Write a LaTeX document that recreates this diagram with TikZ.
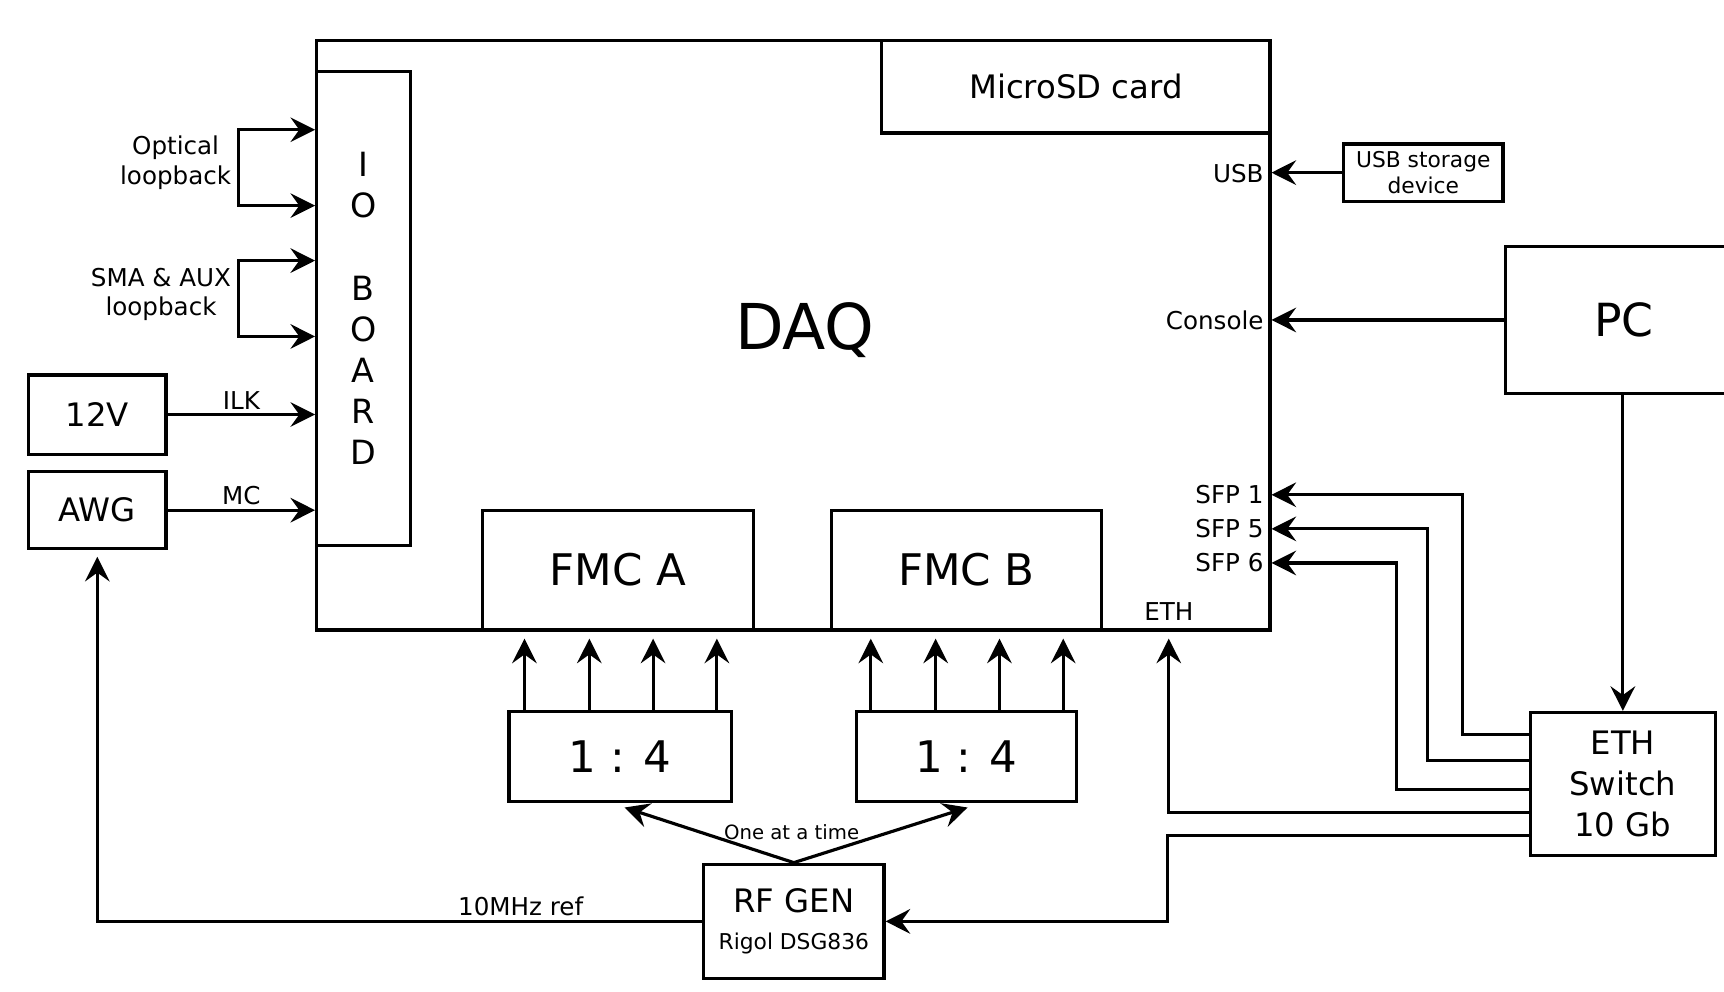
\documentclass[tikz,border=0pt]{standalone}
\usepackage{fontspec}
\setmainfont{DejaVu Sans}
\usetikzlibrary{arrows.meta, positioning, fit, calc}

\begin{document}
\begin{tikzpicture}[x=0.010995cm, y=-0.010995cm,
    >={Stealth[length=7pt, width=7pt, inset=2.5pt]},
    blk/.style={draw, line width=0.9pt, inner sep=0pt},
    arr/.style={->, line width=0.9pt},
    lbl/.style={font=\fontsize{7}{8.4}\selectfont, inner sep=1pt, align=center},
    big/.style={font=\fontsize{9.2}{11.6}\selectfont, align=center},
    huge/.style={font=\fontsize{12.4}{14}\selectfont},
]
\useasboundingbox (0,0) rectangle (1568,902);
\clip (0,0) rectangle (1568,902);
% DAQ board
\node[blk, fit={(288,37) (1155,573)}] (daq) {};
\node[font=\fontsize{18}{20}\selectfont] (daqlbl) at (732,300) {DAQ};
\node[blk, fit={(802,37) (1155,121)}, label={[big]center:{MicroSD card}}] (sd) {};
\node[blk, fit={(288,65) (373,496)}, label={[font=\fontsize{9.5}{11.7}\selectfont, align=center]center:{I\\O\\[11.7pt]B\\O\\A\\R\\D}}] (io) {};
\node[blk, fit={(439,464) (685,573)}, label={[huge]center:{FMC A}}] (fmca) {};
\node[blk, fit={(756,464) (1002,573)}, label={[huge]center:{FMC B}}] (fmcb) {};
\node[lbl, anchor=east] (usblbl) at (1153,158) {USB};
\node[lbl, anchor=east] (conlbl) at (1153,291) {Console};
\node[lbl, anchor=east] (sfp1) at (1153,450) {SFP 1};
\node[lbl, anchor=east] (sfp5) at (1153,481) {SFP 5};
\node[lbl, anchor=east] (sfp6) at (1153,512) {SFP 6};
\node[lbl] (ethlbl) at (1063,556) {ETH};
% splitters and generator
\node[blk, fit={(463,647) (665,729)}, label={[huge]center:{1 : 4}}] (spa) {};
\node[blk, fit={(779,647) (979,729)}, label={[huge]center:{1 : 4}}] (spb) {};
\node[blk, fit={(640,786) (804,890)}, label={[big]center:{RF GEN\\[-1pt]{\fontsize{6.2}{7.4}\selectfont Rigol DSG836}}}] (rf) {};
\node[lbl, font=\fontsize{5.6}{6.7}\selectfont] (once) at (720,757) {One at a time};
% left side
\node[blk, fit={(26,341) (151,413)}, label={[big]center:12V}] (psu) {};
\node[blk, fit={(26,429) (151,499)}, label={[big]center:AWG}] (awg) {};
\node[lbl, anchor=east] (optlbl) at (214,148) {Optical\\loopback};
\node[lbl, anchor=east] (smalbl) at (214,268) {SMA \& AUX\\loopback};
% right side
\node[blk, fit={(1222,131) (1367,183)}, label={[font=\fontsize{6.2}{7.6}\selectfont, align=center]center:{USB storage\\device}}] (usbdev) {};
\node[blk, fit={(1369,224) (1585,358)}, label={[font=\fontsize{13}{15}\selectfont]center:PC}] (pc) {};
\node[blk, fit={(1392,648) (1560,778)}, label={[big]center:{ETH\\Switch\\10 Gb}}] (sw) {};

% loopbacks
\coordinate (opt1) at (217,118);
\coordinate (opt2) at (217,187);
\coordinate (sma1) at (217,237);
\coordinate (sma2) at (217,306);
\draw[<->, line width=0.9pt] (opt1 -| io.west) -- (opt1) -- (opt2) -- (opt2 -| io.west);
\draw[<->, line width=0.9pt] (sma1 -| io.west) -- (sma1) -- (sma2) -- (sma2 -| io.west);
\draw[arr] (psu.east) -- node[lbl, above] {ILK} (psu.east -| io.west);
\draw[arr] (awg.east) -- node[lbl, above] {MC} (awg.east -| io.west);

% host links
\draw[arr] (usbdev.west) -- (usbdev.west -| daq.east);
\draw[arr] (pc.west) -- (pc.west -| daq.east);
\draw[arr] (pc.south -| sw.north) -- (sw.north);
\draw[arr] ($(sw.west)+(0,-45)$) -| (1330,450) -- (sfp1 -| daq.east);
\draw[arr] ($(sw.west)+(0,-21)$) -| (1298,481) -- (sfp5 -| daq.east);
\draw[arr] ($(sw.west)+(0,5)$) -| (1270,512) -- (sfp6 -| daq.east);
\draw[arr, shorten >=2pt] ($(sw.west)+(0,26)$) -| (ethlbl |- daq.south);
\draw[arr] ($(sw.west)+(0,47)$) -| (1062,838) -- (rf.east);

% clock distribution
\draw[arr] (rf.west) -| node[lbl, above, pos=0.15] {10MHz ref} ($(awg.south)+(0,6)$);
\draw[<->, line width=0.9pt] ($(spa.south)+(4,4)$) -- (rf.north) -- ($(spb.south)+(1,4)$);
\foreach \x in {477,536,594,652}
  \draw[arr, shorten >=2pt] (\x,0 |- spa.north) -- (\x,0 |- fmca.south);
\foreach \x in {792,851,909,967}
  \draw[arr, shorten >=2pt] (\x,0 |- spb.north) -- (\x,0 |- fmcb.south);
\end{tikzpicture}
\end{document}
